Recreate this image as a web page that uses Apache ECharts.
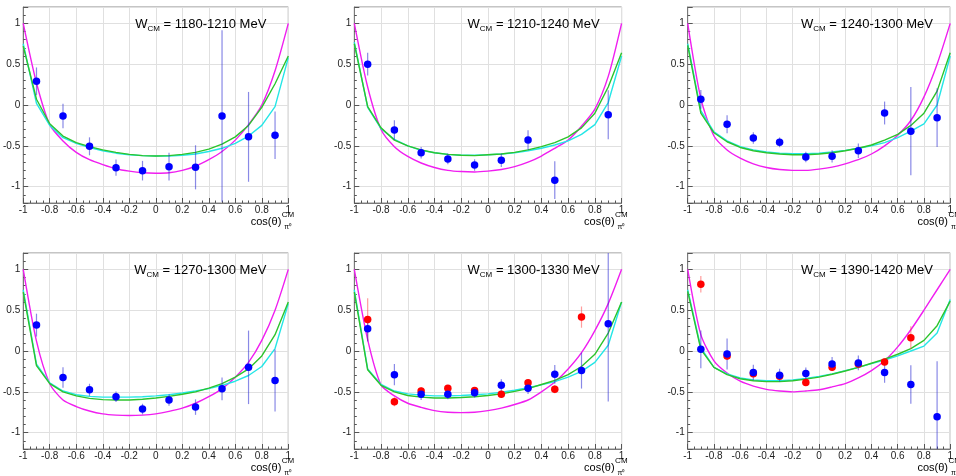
<!DOCTYPE html>
<html>
<head>
<meta charset="utf-8">
<script src="https://cdn.jsdelivr.net/npm/echarts@6/dist/echarts.min.js"></script>
<style>
  html, body { margin: 0; padding: 0; background: #fff; }
  #chart { width: 956px; height: 476px; }
</style>
</head>
<body>
<div id="chart"></div>
<script>
const FONT = '"Liberation Sans", Arial, Helvetica, sans-serif';

// Measured bin centres in cos(theta) and the sampling of the model curves
const binCenters = [-0.9, -0.7, -0.5, -0.3, -0.1, 0.1, 0.3, 0.5, 0.7, 0.9];
const curveX = [-1, -0.9, -0.8, -0.7, -0.6, -0.5, -0.4, -0.3, -0.2, -0.1, 0,
                0.1, 0.2, 0.3, 0.4, 0.5, 0.6, 0.7, 0.8, 0.9, 1];

const energyBins = ['1180-1210', '1210-1240', '1240-1300', '1270-1300', '1300-1330', '1390-1420'];

// W = 1180-1210 MeV
const blue1 = [0.29, -0.135, -0.506, -0.767, -0.804, -0.755, -0.763, -0.135, -0.39, -0.37];
const blueErr1 = [0.17, 0.15, 0.11, 0.10, 0.12, 0.17, 0.27, 1.05, 0.55, 0.29];
const magenta1 = [1.0, 0.27, -0.24, -0.44, -0.58, -0.67, -0.73, -0.78, -0.81, -0.83, -0.835, -0.83, -0.80, -0.75, -0.67, -0.57, -0.43, -0.24, 0.0, 0.42, 1.0];
const green1 = [0.72, 0.07, -0.23, -0.38, -0.46, -0.51, -0.55, -0.58, -0.605, -0.62, -0.625, -0.62, -0.605, -0.58, -0.54, -0.48, -0.39, -0.25, -0.03, 0.26, 0.6];
const cyan1 = [0.75, 0.02, -0.25, -0.40, -0.47, -0.52, -0.56, -0.59, -0.61, -0.62, -0.625, -0.625, -0.615, -0.6, -0.57, -0.53, -0.47, -0.38, -0.25, -0.02, 0.58];

// W = 1210-1240 MeV
const blue2 = [0.50, -0.306, -0.584, -0.66, -0.735, -0.678, -0.43, -0.92, null, -0.118];
const blueErr2 = [0.14, 0.12, 0.07, 0.065, 0.07, 0.08, 0.12, 0.23, null, 0.3];
const magenta2 = [1.0, 0.22, -0.3, -0.51, -0.63, -0.71, -0.765, -0.80, -0.815, -0.82, -0.81, -0.79, -0.755, -0.70, -0.625, -0.53, -0.43, -0.26, -0.05, 0.35, 1.0];
const green2 = [0.75, -0.02, -0.28, -0.43, -0.5, -0.55, -0.585, -0.605, -0.615, -0.62, -0.61, -0.6, -0.58, -0.55, -0.51, -0.46, -0.39, -0.28, -0.1, 0.22, 0.64];
const cyan2 = [0.77, -0.03, -0.29, -0.42, -0.5, -0.555, -0.585, -0.605, -0.615, -0.615, -0.61, -0.6, -0.585, -0.56, -0.53, -0.49, -0.44, -0.36, -0.24, 0.03, 0.6];

// W = 1240-1300 MeV
const blue3 = [0.07, -0.237, -0.404, -0.457, -0.637, -0.629, -0.56, -0.098, -0.32, -0.155];
const blueErr3 = [0.115, 0.11, 0.07, 0.06, 0.065, 0.075, 0.09, 0.14, 0.54, 0.36];
const magenta3 = [1.0, 0.08, -0.38, -0.55, -0.65, -0.72, -0.765, -0.79, -0.80, -0.80, -0.785, -0.76, -0.72, -0.67, -0.6, -0.5, -0.37, -0.19, 0.1, 0.5, 1.0];
const green3 = [0.73, -0.1, -0.34, -0.45, -0.52, -0.56, -0.585, -0.6, -0.61, -0.61, -0.6, -0.585, -0.56, -0.53, -0.49, -0.43, -0.36, -0.25, -0.1, 0.17, 0.64];
const cyan3 = [0.75, -0.07, -0.33, -0.44, -0.51, -0.55, -0.575, -0.59, -0.595, -0.595, -0.59, -0.575, -0.555, -0.53, -0.5, -0.46, -0.4, -0.32, -0.23, 0.0, 0.6];

// W = 1270-1300 MeV
const blue4 = [0.317, -0.325, -0.476, -0.561, -0.711, -0.6, -0.687, -0.463, -0.2, -0.362];
const blueErr4 = [0.14, 0.125, 0.075, 0.065, 0.065, 0.07, 0.095, 0.14, 0.45, 0.38];
const magenta4 = [1.0, 0.12, -0.4, -0.6, -0.68, -0.735, -0.77, -0.785, -0.79, -0.785, -0.77, -0.74, -0.7, -0.64, -0.56, -0.46, -0.32, -0.14, 0.13, 0.5, 1.0];
const green4 = [0.72, -0.18, -0.4, -0.5, -0.55, -0.58, -0.595, -0.6, -0.6, -0.59, -0.575, -0.555, -0.53, -0.5, -0.455, -0.4, -0.32, -0.22, -0.06, 0.2, 0.6];
const cyan4 = [0.75, -0.16, -0.39, -0.49, -0.535, -0.555, -0.565, -0.565, -0.565, -0.56, -0.55, -0.535, -0.515, -0.49, -0.46, -0.42, -0.37, -0.3, -0.19, 0.03, 0.58];

// W = 1300-1330 MeV
const blue5 = [0.272, -0.29, -0.53, -0.53, -0.51, -0.42, -0.455, -0.285, -0.24, 0.333];
const blueErr5 = [0.155, 0.13, 0.07, 0.06, 0.06, 0.075, 0.07, 0.115, 0.22, 0.95];
const red5 = [0.386, -0.62, -0.49, -0.455, -0.484, -0.53, -0.39, -0.467, 0.415, null];
const redErr5 = [0.26, 0.055, 0.05, 0.04, 0.04, 0.04, 0.04, 0.05, 0.13, null];
const magenta5 = [1.0, 0.14, -0.415, -0.55, -0.64, -0.69, -0.73, -0.75, -0.755, -0.75, -0.73, -0.7, -0.655, -0.6, -0.5, -0.38, -0.22, -0.02, 0.25, 0.58, 1.0];
const green5 = [0.72, -0.23, -0.42, -0.5, -0.545, -0.565, -0.575, -0.575, -0.57, -0.56, -0.545, -0.525, -0.495, -0.46, -0.41, -0.36, -0.29, -0.19, -0.04, 0.22, 0.6];
const cyan5 = [0.75, -0.22, -0.41, -0.49, -0.525, -0.54, -0.55, -0.55, -0.545, -0.535, -0.525, -0.505, -0.48, -0.45, -0.415, -0.375, -0.32, -0.25, -0.14, 0.07, 0.6];

// W = 1390-1420 MeV
const blue6 = [0.02, -0.037, -0.264, -0.297, -0.276, -0.159, -0.146, -0.264, -0.41, -0.805];
const blueErr6 = [0.23, 0.19, 0.095, 0.08, 0.075, 0.085, 0.09, 0.125, 0.235, 0.68];
const red6 = [0.817, -0.061, -0.28, -0.309, -0.386, -0.2, -0.159, -0.134, 0.163, null];
const redErr6 = [0.1, 0.05, 0.04, 0.04, 0.04, 0.04, 0.04, 0.04, 0.14, null];
const magenta6 = [1.0, 0.2, -0.12, -0.27, -0.37, -0.43, -0.47, -0.49, -0.5, -0.49, -0.475, -0.44, -0.4, -0.33, -0.24, -0.12, 0.05, 0.26, 0.5, 0.75, 1.0];
const green6 = [0.73, 0.02, -0.2, -0.29, -0.34, -0.365, -0.375, -0.375, -0.365, -0.345, -0.32, -0.285, -0.245, -0.2, -0.15, -0.1, -0.04, 0.03, 0.13, 0.31, 0.61];
const cyan6 = [0.75, 0.04, -0.2, -0.28, -0.33, -0.355, -0.365, -0.365, -0.355, -0.335, -0.31, -0.28, -0.24, -0.2, -0.155, -0.11, -0.06, 0.0, 0.06, 0.22, 0.63];

const panels = [
  { blue: blue1, blueErr: blueErr1, magenta: magenta1, green: green1, cyan: cyan1 },
  { blue: blue2, blueErr: blueErr2, magenta: magenta2, green: green2, cyan: cyan2 },
  { blue: blue3, blueErr: blueErr3, magenta: magenta3, green: green3, cyan: cyan3 },
  { blue: blue4, blueErr: blueErr4, magenta: magenta4, green: green4, cyan: cyan4 },
  { blue: blue5, blueErr: blueErr5, red: red5, redErr: redErr5, magenta: magenta5, green: green5, cyan: cyan5 },
  { blue: blue6, blueErr: blueErr6, red: red6, redErr: redErr6, magenta: magenta6, green: green6, cyan: cyan6 }
];

// Frame geometry (pixels)
const colLeft = [21, 354.3, 687.7];
const rowTop = [7, 253];
const frameW = 267.3;
const frameH = 196;

const COLORS = {
  magenta: '#f01ef0',
  green: '#2cc42c',
  cyan: '#24e6e6',
  blue: '#0000ff',
  red: '#ff0000',
  blueBar: 'rgba(40, 40, 210, 0.55)',
  redBar: 'rgba(255, 60, 60, 0.5)'
};

const measureCtx = document.createElement('canvas').getContext('2d');
function textWidth(str, size) {
  measureCtx.font = size + 'px ' + FONT;
  return measureCtx.measureText(str).width;
}

function points(xs, ys, errs) {
  const out = [];
  for (let i = 0; i < xs.length; i++) {
    if (ys[i] == null) continue;
    out.push(errs ? [xs[i], ys[i], errs[i]] : [xs[i], ys[i]]);
  }
  return out;
}

function curve(ys) {
  return curveX.map((x, i) => [x, ys[i]]);
}

function errorBars(idx, data, color) {
  return {
    type: 'custom',
    xAxisIndex: idx, yAxisIndex: idx,
    clip: true,
    silent: true,
    z: 4,
    data: data,
    renderItem(params, api) {
      const x = api.value(0), y = api.value(1), e = api.value(2);
      const a = api.coord([x, y - e]);
      const b = api.coord([x, y + e]);
      return {
        type: 'line',
        shape: { x1: a[0], y1: a[1], x2: b[0], y2: b[1] },
        style: { stroke: color, lineWidth: 1.2 }
      };
    }
  };
}

const grids = [], xAxes = [], yAxes = [], series = [], graphics = [];

panels.forEach((p, i) => {
  const left = colLeft[i % 3];
  const top = rowTop[Math.floor(i / 3)];
  grids.push({
    left: left, top: top, width: frameW, height: frameH,
    show: true, borderColor: '#8a8a8a', borderWidth: 1, backgroundColor: 'transparent'
  });
  xAxes.push({
    type: 'value', gridIndex: i, min: -1, max: 1, interval: 0.2,
    axisLine: { show: true, onZero: false, lineStyle: { color: '#7a7a7a', width: 1 } },
    axisTick: { show: true, inside: true, length: 5, lineStyle: { color: '#555' } },
    minorTick: { show: true, splitNumber: 4, length: 2.5, lineStyle: { color: '#555' } },
    axisLabel: { fontFamily: FONT, fontSize: 10, color: '#222', margin: 2 },
    splitLine: { show: true, lineStyle: { color: '#e0e0e0', width: 1 } }
  });
  yAxes.push({
    type: 'value', gridIndex: i, min: -1.2, max: 1.2,
    splitNumber: 5, minInterval: 0.5, maxInterval: 0.5,
    axisLine: { show: true, onZero: false, lineStyle: { color: '#7a7a7a', width: 1 } },
    axisTick: { show: true, inside: true, length: 5, lineStyle: { color: '#555' } },
    minorTick: { show: true, splitNumber: 5, length: 2.5, lineStyle: { color: '#555' } },
    axisLabel: {
      fontFamily: FONT, fontSize: 10, color: '#222', margin: 3,
      formatter: v => (Math.abs(v) > 1.001 ? '' : String(+v.toFixed(1)))
    },
    splitLine: { show: true, lineStyle: { color: '#e0e0e0', width: 1 } }
  });

  const lineBase = {
    type: 'line', xAxisIndex: i, yAxisIndex: i, showSymbol: false, symbol: 'none',
    silent: true, animation: false
  };
  series.push(Object.assign({}, lineBase, { data: curve(p.magenta), smooth: 0.25, z: 2, lineStyle: { color: COLORS.magenta, width: 1.4 } }));
  series.push(Object.assign({}, lineBase, { data: curve(p.cyan), z: 2, lineStyle: { color: COLORS.cyan, width: 1.4 } }));
  series.push(Object.assign({}, lineBase, { data: curve(p.green), z: 3, lineStyle: { color: COLORS.green, width: 1.4 } }));

  if (p.red) {
    series.push(errorBars(i, points(binCenters, p.red, p.redErr), COLORS.redBar));
  }
  series.push(errorBars(i, points(binCenters, p.blue, p.blueErr), COLORS.blueBar));
  if (p.red) {
    series.push({
      type: 'scatter', xAxisIndex: i, yAxisIndex: i, symbol: 'circle', symbolSize: 7.5,
      itemStyle: { color: COLORS.red, opacity: 1 }, z: 5, silent: true,
      data: points(binCenters, p.red)
    });
  }
  series.push({
    type: 'scatter', xAxisIndex: i, yAxisIndex: i, symbol: 'circle', symbolSize: 7.5,
    itemStyle: { color: COLORS.blue, opacity: 1 }, z: 6, silent: true,
    data: points(binCenters, p.blue)
  });

  // Panel title: W_CM = ... MeV, right-aligned inside the frame
  const titleRight = left + frameW - 22;
  const titleY = top + 17;
  const rest = ' = ' + energyBins[i] + ' MeV';
  const wRest = textWidth(rest, 13);
  const wSub = textWidth('CM', 8);
  const textStyle = (text, size, align) => ({
    text: text, font: size + 'px ' + FONT, fill: '#000',
    align: align, verticalAlign: 'middle', textAlign: align, textVerticalAlign: 'middle'
  });
  graphics.push({ type: 'text', x: titleRight, y: titleY, style: textStyle(rest, 13, 'right'), z: 10 });
  graphics.push({ type: 'text', x: titleRight - wRest, y: titleY + 5, style: textStyle('CM', 8, 'right'), z: 10 });
  graphics.push({ type: 'text', x: titleRight - wRest - wSub, y: titleY, style: textStyle('W', 13, 'right'), z: 10 });

  // Axis title: cos(θ) with CM superscript and π⁰ subscript
  const axRight = left + frameW;
  const axBottom = top + frameH;
  graphics.push({ type: 'text', x: axRight - 7, y: axBottom + 18.5, style: textStyle('cos(θ)', 11, 'right'), z: 10 });
  graphics.push({ type: 'text', x: axRight - 6.5, y: axBottom + 12, style: textStyle('CM', 8, 'left'), z: 10 });
  graphics.push({ type: 'text', x: axRight - 4, y: axBottom + 24, style: textStyle('π⁰', 7, 'left'), z: 10 });
});

const chart = echarts.init(document.getElementById('chart'), null, { renderer: 'canvas' });
chart.setOption({
  animation: false,
  backgroundColor: '#ffffff',
  grid: grids,
  xAxis: xAxes,
  yAxis: yAxes,
  series: series,
  graphic: graphics
});
</script>
</body>
</html>
